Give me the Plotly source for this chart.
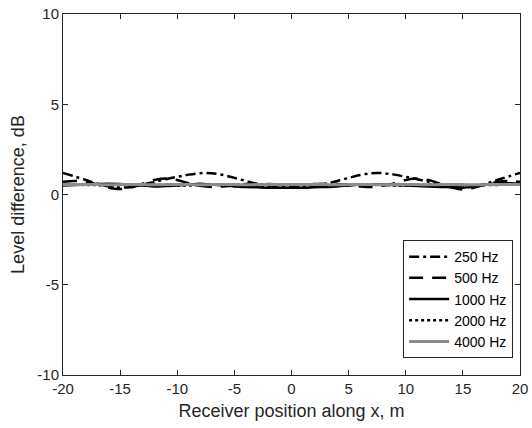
import plotly.graph_objects as go

x_pos = list(range(-20, 21))

ld_250 = [1.2, 1.0, 0.8, 0.6, 0.45, 0.38, 0.42, 0.55, 0.7, 0.85, 0.98, 1.1, 1.18, 1.18, 1.08, 0.92, 0.75, 0.58, 0.47, 0.41, 0.4,
          0.41, 0.47, 0.58, 0.75, 0.92, 1.08, 1.18, 1.18, 1.1, 0.98, 0.85, 0.7, 0.55, 0.42, 0.38, 0.45, 0.6, 0.8, 1.0, 1.2]
ld_500 = [0.7, 0.75, 0.7, 0.55, 0.38, 0.3, 0.4, 0.6, 0.8, 0.88, 0.8, 0.62, 0.48, 0.42, 0.45, 0.52, 0.58, 0.6, 0.58, 0.55, 0.53,
          0.55, 0.58, 0.6, 0.58, 0.52, 0.45, 0.42, 0.48, 0.62, 0.8, 0.88, 0.8, 0.6, 0.4, 0.28, 0.38, 0.55, 0.7, 0.75, 0.7]
ld_1000 = [0.5, 0.52, 0.55, 0.58, 0.6, 0.58, 0.55, 0.5, 0.45, 0.47, 0.5, 0.55, 0.6, 0.55, 0.5, 0.45, 0.42, 0.4, 0.38, 0.38, 0.38,
           0.38, 0.4, 0.42, 0.45, 0.5, 0.55, 0.55, 0.55, 0.52, 0.5, 0.47, 0.45, 0.42, 0.4, 0.38, 0.45, 0.55, 0.62, 0.62, 0.6]
ld_2000 = [0.55, 0.55, 0.53, 0.52, 0.5, 0.52, 0.55, 0.56, 0.55, 0.52, 0.5, 0.5, 0.52, 0.55, 0.56, 0.55, 0.53, 0.5, 0.5, 0.52, 0.53,
           0.52, 0.5, 0.5, 0.53, 0.55, 0.56, 0.55, 0.52, 0.5, 0.5, 0.52, 0.55, 0.56, 0.55, 0.52, 0.5, 0.52, 0.53, 0.55, 0.55]
ld_4000 = [0.55, 0.55, 0.56, 0.55, 0.54, 0.55, 0.56, 0.55, 0.54, 0.55, 0.56, 0.55, 0.54, 0.55, 0.56, 0.55, 0.54, 0.55, 0.56, 0.55, 0.55,
           0.55, 0.56, 0.55, 0.54, 0.55, 0.56, 0.55, 0.54, 0.55, 0.56, 0.55, 0.54, 0.55, 0.56, 0.55, 0.54, 0.55, 0.56, 0.55, 0.55]

x_ticks = [-20, -15, -10, -5, 0, 5, 10, 15, 20]
y_ticks = [-10, -5, 0, 5, 10]

series = [
    ("250 Hz", ld_250, "black", "10px,4px,3px,4px", 2.5),
    ("500 Hz", ld_500, "black", "14px,9px", 2.5),
    ("1000 Hz", ld_1000, "black", "solid", 2.5),
    ("2000 Hz", ld_2000, "black", "dot", 2.5),
    ("4000 Hz", ld_4000, "#8c8c8c", "solid", 3),
]

FONT = "Liberation Sans, Arial"
fig = go.Figure()
for name, ys, col, dash, w in series:
    fig.add_trace(go.Scatter(x=x_pos, y=ys, mode="lines", name=name,
                             line=dict(color=col, dash=dash, width=w, shape="spline")))

axis_common = dict(showgrid=False, zeroline=False, showline=True, linecolor="#262626", linewidth=1,
                   mirror="ticks", ticks="inside", ticklen=5, tickcolor="#262626", automargin=False,
                   tickfont=dict(family=FONT, size=15, color="#262626"))

fig.update_layout(
    width=532, height=428,
    margin=dict(l=63, r=12, t=14, b=53),
    paper_bgcolor="white", plot_bgcolor="white",
    xaxis=dict(range=[-20, 20], tickvals=x_ticks, ticktext=[str(v) for v in x_ticks],
               title=dict(text="Receiver position along x, m", standoff=8,
                          font=dict(family=FONT, size=18, color="#262626")),
               **axis_common),
    yaxis=dict(range=[-10, 10], tickvals=y_ticks, ticktext=[str(v) for v in y_ticks],
               title=dict(text="Level difference, dB", standoff=8,
                          font=dict(family=FONT, size=18, color="#262626")),
               **axis_common),
    legend=dict(x=0.985, y=0.047, xanchor="right", yanchor="bottom",
                bgcolor="white", bordercolor="#262626", borderwidth=1,
                font=dict(family=FONT, size=14, color="black"),
                tracegroupgap=0, itemwidth=40),
    showlegend=True,
)

fig.write_html("out.html", config={"displayModeBar": False},
               post_script="document.body.style.margin='0';document.body.style.overflow='hidden';")
